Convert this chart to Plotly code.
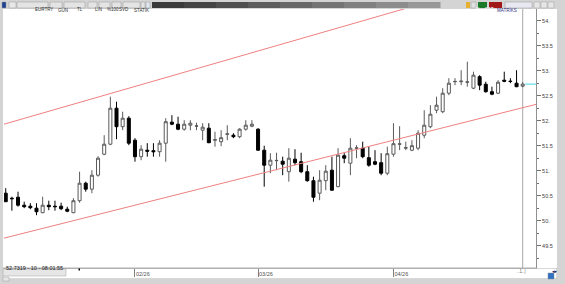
import numpy as np
import pandas as pd
import plotly.graph_objects as go

# ---------------- data ----------------
symbol = "EURTRY"
dates = pd.bdate_range("2026-01-02", "2026-04-30")

opens = [50.55, 50.45, 50.47, 50.31, 50.29, 50.25, 50.16, 50.31, 50.29, 50.29,
         50.23, 50.16, 50.40, 50.75, 50.63, 50.91, 51.33, 51.53, 52.25, 51.88,
         52.05, 51.61, 51.28, 51.41, 51.40, 51.38, 51.55, 51.97, 51.93, 51.83,
         51.91, 51.89, 51.81, 51.85, 51.61, 51.58, 51.73, 51.71, 51.68, 51.83,
         51.89, 51.83, 51.41, 51.11, 51.20, 51.19, 50.98, 51.23, 51.18, 50.98,
         50.80, 50.55, 50.80, 51.01, 50.68, 51.30, 51.15, 51.45, 51.45, 51.26,
         51.18, 51.16, 50.95, 51.33, 51.53, 51.45, 51.41, 51.45, 51.71, 51.88,
         52.21, 52.18, 52.55, 52.78, 52.78, 52.77, 52.65, 52.88, 52.73, 52.58,
         52.55, 52.81, 52.79, 52.75, 52.69]
highs = [50.65, 50.48, 50.58, 50.38, 50.35, 50.35, 50.48, 50.40, 50.40, 50.36,
         50.28, 50.45, 50.98, 50.78, 51.01, 51.29, 51.71, 52.48, 52.38, 52.18,
         52.09, 51.65, 51.51, 51.55, 51.55, 51.61, 52.05, 52.11, 52.08, 52.01,
         52.01, 51.96, 51.95, 51.95, 51.78, 51.81, 51.91, 51.75, 51.85, 52.01,
         52.01, 51.85, 51.50, 51.35, 51.36, 51.28, 51.45, 51.43, 51.36, 51.11,
         50.88, 51.01, 51.11, 51.28, 51.45, 51.35, 51.65, 51.51, 51.58, 51.48,
         51.41, 51.35, 51.48, 51.95, 51.89, 51.58, 51.61, 51.81, 52.21, 52.31,
         52.48, 52.65, 52.85, 52.85, 53.01, 53.18, 52.98, 52.91, 52.78, 52.68,
         52.81, 52.98, 52.85, 53.01, 52.77]
lows = [50.38, 50.20, 50.28, 50.25, 50.23, 50.11, 50.15, 50.21, 50.20, 50.21,
        50.17, 50.15, 50.36, 50.58, 50.55, 50.88, 51.31, 51.51, 51.63, 51.81,
        51.51, 51.18, 51.21, 51.28, 51.28, 51.28, 51.18, 51.91, 51.81, 51.80,
        51.81, 51.81, 51.61, 51.55, 51.48, 51.49, 51.61, 51.65, 51.65, 51.80,
        51.87, 51.40, 50.68, 50.95, 51.01, 50.91, 50.78, 51.11, 50.95, 50.78,
        50.38, 50.41, 50.61, 50.60, 50.67, 51.15, 50.91, 51.25, 51.25, 51.08,
        51.11, 50.91, 50.91, 51.28, 51.41, 51.41, 51.39, 51.41, 51.65, 51.85,
        52.15, 52.15, 52.51, 52.71, 52.71, 52.68, 52.63, 52.61, 52.56, 52.51,
        52.53, 52.77, 52.75, 52.67, 52.67]
closes = [50.38, 50.44, 50.31, 50.28, 50.26, 50.18, 50.31, 50.28, 50.28, 50.24,
          50.19, 50.40, 50.75, 50.63, 50.91, 51.25, 51.53, 52.25, 51.88, 52.05,
          51.55, 51.28, 51.43, 51.39, 51.38, 51.55, 51.98, 51.93, 51.83, 51.93,
          51.95, 51.895, 51.87, 51.56, 51.62, 51.66, 51.735, 51.68, 51.83, 51.91,
          51.93, 51.41, 51.11, 51.21, 51.205, 51.13, 51.25, 51.16, 50.98, 50.80,
          50.47, 50.81, 50.99, 50.61, 51.31, 51.25, 51.45, 51.455, 51.28, 51.11,
          51.13, 50.95, 51.34, 51.54, 51.535, 51.46, 51.50, 51.75, 51.91, 52.13,
          52.31, 52.55, 52.75, 52.785, 52.79, 52.775, 52.91, 52.71, 52.58, 52.53,
          52.77, 52.79, 52.785, 52.68, 52.7319]

# trend channel anchor values (at bar index 0 and bar index 84)
trend_anchor_idx = [0, 84]
upper_trend = [51.94, 54.92]
lower_trend = [49.66, 52.26]

y_tick_vals = [49.5, 50.0, 50.5, 51.0, 51.5, 52.0, 52.5, 53.0, 53.5, 54.0]
y_tick_text = ["49.5", "50.", "50.5", "51.", "51.5", "52.", "52.5", "53.", "53.5", "54."]

status_text = "52.7319 - 10 - 08:01:55"

# ---------------- layout geometry ----------------
W, H = 565, 284
L, R, T, B = 4, 29, 9, 16
PW, PH = W - L - R, H - T - B

def px(x):
    return (x - L) / PW

def py(y):
    return (H - B - y) / PH

idx = np.arange(len(dates))
x_range = [-0.28, 86.16]
y_range = [49.054, 54.234]

month = dates.month
tick_idx = [int(i) for i in idx[1:] if month[i] != month[i - 1]]
tick_txt = [dates[i].strftime("%m/%y") for i in tick_idx]

fig = go.Figure()
fig.add_trace(go.Candlestick(
    x=idx, open=opens, high=highs, low=lows, close=closes,
    increasing=dict(line=dict(color="#5a5a5a", width=1), fillcolor="#ffffff"),
    decreasing=dict(line=dict(color="#000000", width=1), fillcolor="#000000"),
    whiskerwidth=0, showlegend=False, hoverinfo="skip",
))

shapes = []

def rect(x0, y0, x1, y1, fill, line=None, lw=0, layer="above"):
    shapes.append(dict(type="rect", xref="paper", yref="paper",
                       x0=px(x0), x1=px(x1), y0=py(y0), y1=py(y1),
                       fillcolor=fill, line=dict(color=line or fill, width=lw),
                       layer=layer))

def extend(vals, xv):
    slope = (vals[1] - vals[0]) / (trend_anchor_idx[1] - trend_anchor_idx[0])
    return vals[0] + slope * (xv - trend_anchor_idx[0])

for tv in (upper_trend, lower_trend):
    shapes.append(dict(type="line", xref="x", yref="y",
                       x0=x_range[0], x1=x_range[1],
                       y0=extend(tv, x_range[0]), y1=extend(tv, x_range[1]),
                       line=dict(color="#f08080", width=1), layer="above"))

last = idx[-1]
shapes.append(dict(type="line", xref="x", yref="paper", x0=last, x1=last, y0=0, y1=1,
                   line=dict(color="#a8a8a8", width=1), layer="below"))
shapes.append(dict(type="line", xref="x", yref="y", x0=last + 0.4, x1=x_range[1],
                   y0=closes[-1], y1=closes[-1],
                   line=dict(color="#40d8e0", width=1), layer="above"))

# window frame / toolbar
rect(0, 0, 565, 9, "#d4d4d4")
rect(152, 2, 440, 8, "#404040")
grad = ["#3a3a3a", "#444444", "#505050", "#5c5c5c", "#686868", "#747474", "#808080", "#8c8c8c", "#989898"]
seg = (440 - 152) / len(grad)
for i, c in enumerate(grad):
    rect(152 + i * seg, 2, 152 + (i + 1) * seg + 0.5, 8, c)
# bottom strip and frame borders
rect(3, 268, 557, 279, "#ffffff", "#b0b0b0", 1, layer="below")
rect(0, 279, 565, 284, "#d4d4d4")
rect(0, 0, 3, 284, "#d4d4d4")
rect(557, 9, 565, 284, "#d4d4d4")
rect(536, 9, 557, 268, "#ffffff", layer="below")

# toolbar buttons
btns = [(2, 6, "#1c3f94", ""), (9, 16, "#e8e8e8", ""), (17, 48, "#e4e4e4", "EURTRY"),
        (50, 62, "#e4e4e4", "GÜN"), (64, 85, "#e4e4e4", "TL"), (88, 97, "#e4e4e4", "LIN"),
        (99, 110, "#e4e4e4", "%100"), (112, 121, "#e4e4e4", "SVD"),
        (123, 140, "#e4e4e4", "STATİK"), (141, 145, "#e4e4e4", ""), (146, 150, "#dfe8f0", "")]
annos = []
for x0, x1, c, t in btns:
    rect(x0, 2, x1, 8, c, "#9a9a9a", 0.5)
    if t:
        annos.append(dict(x=px((x0 + x1) / 2), y=py(5), xref="paper", yref="paper",
                          text=t, showarrow=False, font=dict(size=4.5, color="#303030",
                                                             family="Liberation Sans")))
rect(466, 2, 470, 8, "#e8b030")
rect(471, 2, 476, 8, "#e0e0e0", "#9a9a9a", 0.5)
rect(478, 2, 487, 8, "#1a7a2a")
rect(489, 2, 502, 8, "#a01818")
rect(505, 2, 532, 8, "#e8e8f0", "#9a9a9a", 0.5)
for x0 in (534, 541, 548):
    rect(x0, 2, x0 + 6, 8, "#e6e6e6", "#a0a0a0", 0.5)
for xc, t, col in ((482.5, "AL", "#ffffff"), (495.5, "SAT", "#ffffff"), (518.5, "MATRİKS", "#303080")):
    annos.append(dict(x=px(xc), y=py(5), xref="paper", yref="paper", text=t, showarrow=False,
                      font=dict(size=4.5, color=col, family="Liberation Sans")))

# status box bottom-left
rect(3, 269, 66, 276, "#e6e6e6", "#a0a0a0", 0.5)
rect(3, 277, 9, 281, "#e6e6e6", "#a0a0a0", 0.5)
annos.append(dict(x=px(4), y=py(272.5), xref="paper", yref="paper", xanchor="left",
                  text=status_text, showarrow=False,
                  font=dict(size=5.5, color="#202020", family="Liberation Sans")))
rect(78.5, 268.5, 80, 270.5, "#000000")
# bottom right icons
rect(548, 273, 554, 279, "#3070c0", "#8090a0", 0.5)
annos.append(dict(x=px(528), y=py(276), xref="paper", yref="paper", text="..1..|", showarrow=False,
                  font=dict(size=4.5, color="#707070", family="Liberation Sans")))
annos.append(dict(x=px(559.5), y=py(276), xref="paper", yref="paper", text="◂▸", showarrow=False,
                  font=dict(size=5, color="#202060", family="DejaVu Sans")))

fig.update_layout(
    width=W, height=H,
    margin=dict(l=L, r=R, t=T, b=B, pad=0),
    paper_bgcolor="#ffffff", plot_bgcolor="#ffffff",
    shapes=shapes, annotations=annos,
    showlegend=False,
    font=dict(family="Liberation Sans", size=6, color="#404040"),
    xaxis=dict(range=x_range, rangeslider=dict(visible=False), showgrid=False, zeroline=False,
               tickvals=tick_idx, ticktext=tick_txt, ticks="outside", ticklen=8,
               tickcolor="#808080", ticklabelposition="outside right",
               tickfont=dict(size=5.5, color="#505050"),
               showline=True, linecolor="#b0b0b0", linewidth=1),
    yaxis=dict(range=y_range, side="right", showgrid=False, zeroline=False,
               tickvals=y_tick_vals, ticktext=y_tick_text, ticks="outside", ticklen=4,
               tickcolor="#707070", tickfont=dict(size=5.5, color="#404040"),
               showline=True, linecolor="#909090", linewidth=1,
               minor=dict(dtick=0.25, ticks="outside", ticklen=2, tickcolor="#707070")),
)

fig.write_html("out.html")
